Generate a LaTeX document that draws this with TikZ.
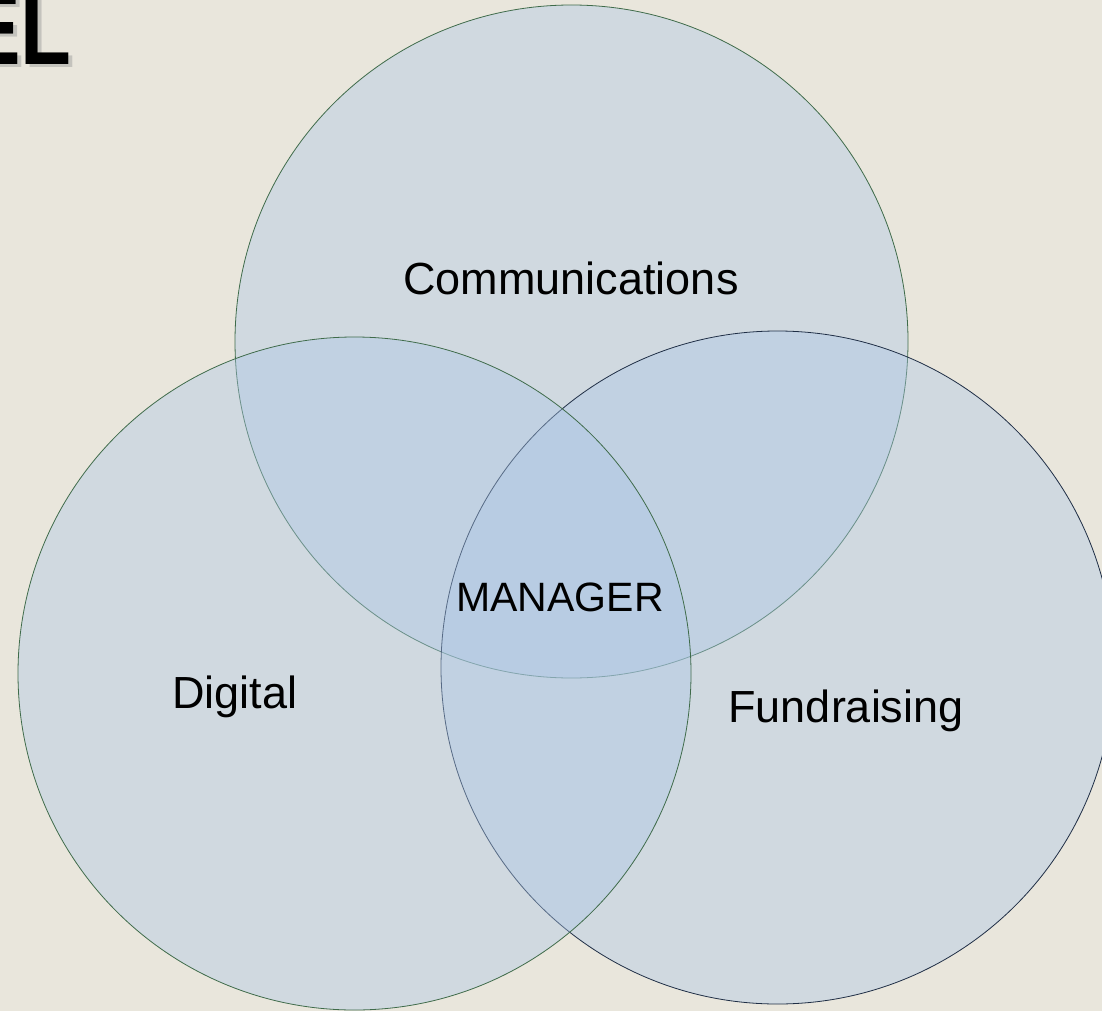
\documentclass[tikz,border=0pt]{standalone}
\usepackage{fontspec}
\setmainfont{Liberation Sans}
\usepackage{xcolor}
\usetikzlibrary{positioning}

\definecolor{paper}{HTML}{E9E6DC}
\definecolor{wash}{HTML}{ABC6E6}
\definecolor{rimgreen}{HTML}{3F6B4A}
\definecolor{rimnavy}{HTML}{1F2E45}

\begin{document}
\begin{tikzpicture}[x=1pt,y=-1pt,
  area/.style={circle,draw=#1,line width=0.8pt,fill=wash,fill opacity=0.4,
    draw opacity=1,inner sep=0pt,minimum size=673pt},
  area/.default=rimgreen,
  lbl/.style={font=\fontsize{45}{50}\selectfont,text=black,inner sep=0pt},
  title/.style={font=\fontsize{104}{106}\selectfont\bfseries,inner sep=0pt,anchor=base east}]
\useasboundingbox (0,0) rectangle (1102,1011);
\fill[paper] (0,0) rectangle (1102,1011);
% heading, cut at the page edge
\node[title,text=black!40,opacity=0.45] (headshadow) at (76,68) {\scalebox{0.8}[1]{EL}};
\node[title,text=black] (head) at (72,65) {\scalebox{0.8}[1]{EL}};
% the three circles
\node[area] (comm) at (571.5,341.5) {};
\node[area=rimnavy] (fund) at (777.5,667.5) {};
\node[area] (digi) at (354.5,673.5) {};
% labels
\node[lbl] (commlbl) at (571,278) {Communications};
\node[lbl] (digilbl) at (235,697) {Digital};
\node[lbl] (fundlbl) at (846,711) {Fundraising};
\node[lbl,font=\fontsize{41}{46}\selectfont] (mgr) at (560,597) {MANAGER};
\end{tikzpicture}
\end{document}
